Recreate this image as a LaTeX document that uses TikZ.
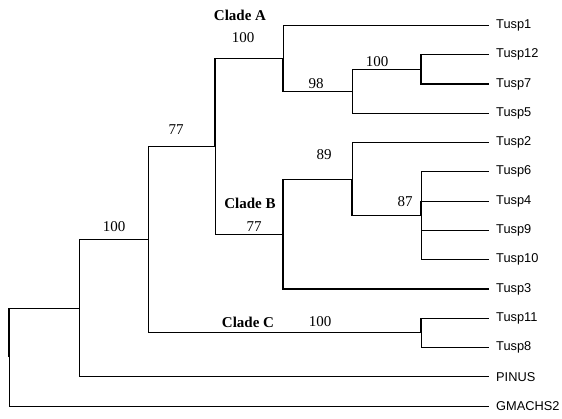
\documentclass[tikz,border=0pt]{standalone}
\usepackage{fontspec}
\setmainfont{Liberation Serif}
\newfontfamily\taxonfont{Liberation Sans}
\usepackage{tikz}
\usetikzlibrary{positioning}

\begin{document}
\begin{tikzpicture}[
        x=1pt, y=-1pt,
        every node/.style={inner sep=0pt},
        boot/.style={font=\fontsize{15}{17}\selectfont},
        clade/.style={font=\fontsize{15}{17}\selectfont\bfseries},
        taxon/.style={font=\taxonfont\fontsize{12.8}{15}\selectfont, anchor=west, inner xsep=7pt},
        branch/.style={line width=0.75pt},
        heavy/.style={line width=1.2pt}
    ]
    \useasboundingbox (0,0) rectangle (562,418);

    % ============ leaves ============
    \foreach \name/\i in {Tusp1/0, Tusp12/1, Tusp7/2, Tusp5/3, Tusp2/4, Tusp6/5,
            Tusp4/6, Tusp9/7, Tusp10/8, Tusp3/9, Tusp11/10, Tusp8/11, PINUS/12, GMACHS2/13} {
        \coordinate (\name) at (489,{25.5+29.27*\i});
        \node[taxon] (lab\name) at (\name) {\name};
    }

    % ============ internal nodes ============
    \coordinate (nT12) at (421,69.4);
    \coordinate (n98)  at (352,91.4);
    \coordinate (nA)   at (283,58.4);
    \coordinate (n87)  at (421,215.8);
    \coordinate (n89)  at (352,179.2);
    \coordinate (nB)   at (283,234.0);
    \coordinate (nAB)  at (215,146.2);
    \coordinate (nC)   at (421,332.8);
    \coordinate (nABC) at (148,239.5);
    \coordinate (nIn)  at (79,308.1);
    \coordinate (root) at (9,357.0);

    % ============ branches ============
    % clade A
    \draw[heavy]  (nAB) |- (nA);
    \draw[branch] (nA) |- (Tusp1);
    \draw[heavy]  (nA) |- (n98);
    \draw[branch] (n98) |- (nT12);
    \draw[branch] (n98) |- (Tusp5);
    \draw[heavy]  (nT12) |- (Tusp12);
    \draw[heavy]  (nT12) |- (Tusp7);
    % clade B
    \draw[branch] (nAB) |- (nB);
    \draw[heavy]  (nB) |- (n89);
    \draw[heavy]  (nB) |- (Tusp3);
    \draw[branch] (n89) |- (Tusp2);
    \draw[heavy]  (n89) |- (n87);
    \draw[branch] (n87) |- (Tusp6);
    \draw[heavy]  (n87) |- (Tusp4);
    \draw[branch] (n87) |- (Tusp9);
    \draw[branch] (n87) |- (Tusp10);
    % clade C and outgroups
    \draw[branch] (nABC) |- (nAB);
    \draw[branch] (nABC) |- (nC);
    \draw[heavy]  (nC) |- (Tusp11);
    \draw[branch] (nC) |- (Tusp8);
    \draw[branch] (nIn) |- (nABC);
    \draw[branch] (nIn) |- (PINUS);
    \draw[heavy]  (root) |- (nIn);
    \draw[branch] (root) |- (GMACHS2);

    % ============ support values ============
    \node[clade] (cladeA) at (240,15) {Clade A};
    \node[boot] (bA)   at (243,38)  {100};
    \node[boot] (bT12) at (377,62)  {100};
    \node[boot] (b98)  at (316,84)  {98};
    \node[boot] (bAB)  at (176,130) {77};
    \node[clade] (cladeB) at (250,203) {Clade B};
    \node[boot] (bB)   at (254,227) {77};
    \node[boot] (b89)  at (324,155) {89};
    \node[boot] (b87)  at (405,202) {87};
    \node[boot] (bABC) at (114,227) {100};
    \node[clade] (cladeC) at (248,322) {Clade C};
    \node[boot] (bC)   at (320,322) {100};
\end{tikzpicture}
\end{document}
